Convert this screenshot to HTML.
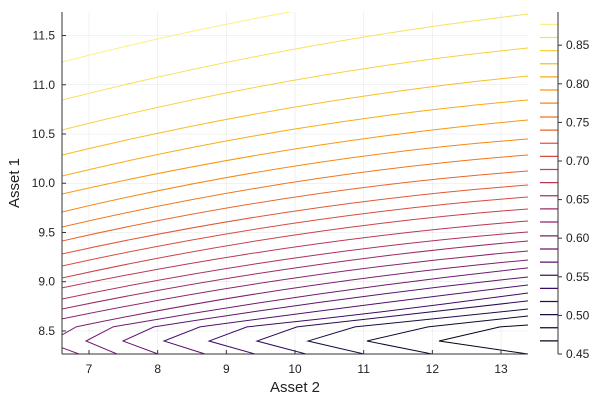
<!DOCTYPE html>
<html><head><meta charset="utf-8"><style>
body{margin:0;background:#fff}
svg{display:block;font-family:"Liberation Sans",sans-serif}
</style></head><body>
<svg id="chart" width="600" height="400" xmlns="http://www.w3.org/2000/svg">
<defs><clipPath id="plotclip"><rect x="62" y="12" width="466" height="342"/></clipPath></defs>
<g id="grid"></g>
<g id="lines" clip-path="url(#plotclip)"></g>
<g id="axes"></g>
<g id="cbar"></g>
<text x="295" y="392" text-anchor="middle" font-size="15" fill="#222">Asset 2</text>
<text x="0" y="0" transform="translate(19,183) rotate(-90)" text-anchor="middle" font-size="15" fill="#222">Asset 1</text>
</svg>
<script>
const levels=[0.877,0.860,0.843,0.826,0.809,0.792,0.775,0.757,0.740,0.723,0.706,0.689,0.672,0.655,0.638,0.621,0.603,0.586,0.569,0.552,0.535,0.518,0.501,0.484,0.467];
// y values at x=left edge, x=10, x=right edge (null = not crossing)
const leftY=[11.231,10.845,10.541,10.287,10.074,9.891,9.708,9.556,9.414,9.282,9.160,9.038,8.937,8.825,8.723,8.622,8.459,null,null,null,null,null,null,null,null];
const midY=[11.749,11.363,11.048,10.774,10.551,10.348,10.175,10.013,9.860,9.718,9.596,9.475,9.353,9.241,9.140,9.038,8.937,8.845,8.764,8.673,8.581,null,null,null,null];
const rightY=[12.084,11.718,11.373,11.089,10.845,10.642,10.449,10.287,10.124,9.982,9.860,9.739,9.617,9.505,9.414,9.312,9.221,9.140,9.048,8.967,8.886,8.805,8.723,8.652,8.561];
// V-shaped lines near bottom (levels index 16..24)
const kinkX=[6.811,7.349,7.947,8.616,9.301,10.029,10.874,11.937,12.985];
const vertexX=[6.45,6.956,7.495,8.092,8.748,9.446,10.189,11.048,12.097];
const bottomX=[6.854,7.408,8.005,8.689,9.417,10.160,11.005,11.995,13.393];
const kinkY=8.541, vertexY=8.398;
const xTicks=[7,8,9,10,11,12,13];
const yTicks=[8.5,9.0,9.5,10.0,10.5,11.0,11.5];
const cTicks=[0.45,0.50,0.55,0.60,0.65,0.70,0.75,0.80,0.85];

const X0=6.607,X1=13.393,Y0=8.266,Y1=11.739;
const sx=x=>62+(x-X0)/(X1-X0)*466;
const sy=y=>354-(y-Y0)/(Y1-Y0)*342;
const C0=0.45,C1=0.893;
const sc=v=>354-(v-C0)/(C1-C0)*342;
const inf=[[0,'000004'],[0.1,'160b39'],[0.2,'420a68'],[0.3,'6a176e'],[0.4,'932667'],[0.5,'bc3754'],[0.6,'dd513a'],[0.7,'f37819'],[0.8,'fca50a'],[0.9,'f6d746'],[1,'fcffa4']];
function color(v){let t=Math.max(0,Math.min(1,(v-C0)/(C1-C0)));
 for(let i=0;i<inf.length-1;i++){if(t<=inf[i+1][0]){const f=(t-inf[i][0])/0.1;
  const a=inf[i][1],b=inf[i+1][1];const c=[0,2,4].map(k=>Math.round(parseInt(a.substr(k,2),16)*(1-f)+parseInt(b.substr(k,2),16)*f));
  return `rgb(${c.join(',')})`;}}return '#fcffa4';}
const NS='http://www.w3.org/2000/svg';
function mk(tag,attrs,parent){const e=document.createElementNS(NS,tag);for(const k in attrs)e.setAttribute(k,attrs[k]);parent.appendChild(e);return e;}
const grid=document.getElementById('grid'),lines=document.getElementById('lines'),axes=document.getElementById('axes'),cbar=document.getElementById('cbar');
xTicks.forEach(t=>{const g=mk('line',{x1:sx(t),x2:sx(t),y1:12,y2:354,stroke:'#000','stroke-opacity':0.1,'stroke-width':0.5},grid);
 
 });
yTicks.forEach(t=>{const g=mk('line',{x1:62,x2:528,y1:sy(t),y2:sy(t),stroke:'#000','stroke-opacity':0.1,'stroke-width':0.5},grid);
 
 });
function quad(x0,y0,xm,ym,x1,y1){const cx=2*sx(xm)-(sx(x0)+sx(x1))/2,cy=2*sy(ym)-(sy(y0)+sy(y1))/2;
 return `M${sx(x0)},${sy(y0)} Q${cx},${cy} ${sx(x1)},${sy(y1)}`;}
levels.forEach((v,i)=>{let d;
 if(i<16){d=quad(X0,leftY[i],10,midY[i],X1,rightY[i]);}
 else{const j=i-16;
  if(i===16){d=`M${sx(X0)},${sy(8.33)} L${sx(bottomX[0])},${sy(Y0)} M${sx(X0)},${sy(leftY[i])} L${sx(kinkX[0])},${sy(kinkY)} `;
   d+=quad(kinkX[0],kinkY,10,midY[i],X1,rightY[i]).replace(/^M[^Q]*/,'');}
  else{d=`M${sx(bottomX[j])},${sy(Y0)} L${sx(vertexX[j])},${sy(vertexY)} L${sx(kinkX[j])},${sy(kinkY)} `;
   if(midY[i]!==null&&kinkX[j]<10){const xm=(kinkX[j]+X1)/2;
     // midpoint value estimated between read points
     const ym=midY[i]+(rightY[i]-midY[i])*((xm-10)/(X1-10));
     d+=quad(kinkX[j],kinkY,xm,ym,X1,rightY[i]).replace(/^M[^Q]*/,'');}
   else d+=`L${sx(X1)},${sy(rightY[i])}`;}}
 const p=mk('path',{d:d,fill:'none',stroke:color(v),'stroke-width':1},lines);
 
 
});
mk('line',{x1:62,x2:62,y1:12,y2:354,stroke:'#333','stroke-width':1},axes);
mk('line',{x1:62,x2:528,y1:354,y2:354,stroke:'#333','stroke-width':1},axes);
xTicks.forEach(t=>{mk('line',{x1:sx(t),x2:sx(t),y1:354,y2:350,stroke:'#333'},axes);
 const l=mk('text',{x:sx(t),y:373,'text-anchor':'middle','font-size':12,fill:'#222'},axes);l.textContent=t;
 
 });
yTicks.forEach(t=>{mk('line',{x1:62,x2:66,y1:sy(t),y2:sy(t),stroke:'#333'},axes);
 const l=mk('text',{x:55,y:sy(t)+4,'text-anchor':'end','font-size':12,fill:'#222'},axes);l.textContent=t.toFixed(1);
 
 });
levels.forEach(v=>{const c=mk('line',{x1:540,x2:558,y1:sc(v),y2:sc(v),stroke:color(v),'stroke-width':1.2},cbar);
 
 });
mk('line',{x1:558,x2:558,y1:12,y2:354,stroke:'#333'},cbar);
cTicks.forEach(t=>{mk('line',{x1:558,x2:562,y1:sc(t),y2:sc(t),stroke:'#333'},cbar);
 const l=mk('text',{x:566,y:sc(t)+4,'font-size':12,fill:'#222'},cbar);l.textContent=t.toFixed(2);
 
 });
</script>
</body></html>
